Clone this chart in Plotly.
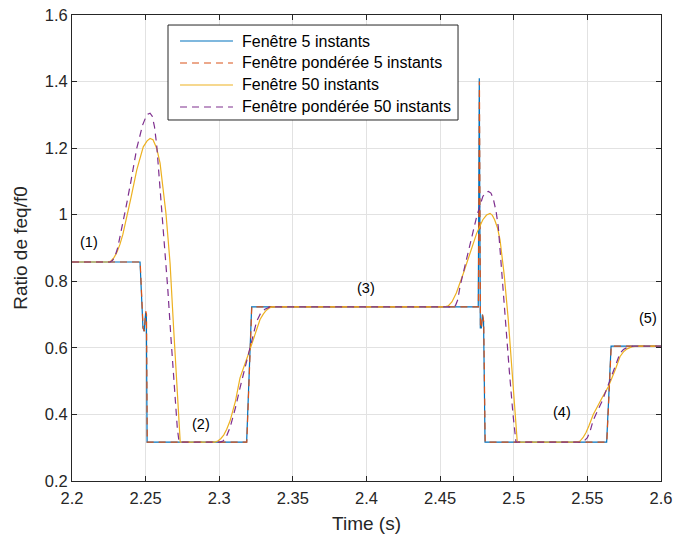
import plotly.graph_objects as go

# ---- data ----
t_w5 = [2.2, 2.2462, 2.2482, 2.2490, 2.2500, 2.2505, 2.2510, 2.3186, 2.3220,
        2.4759, 2.4766, 2.4773, 2.4780, 2.4787, 2.4795, 2.4805, 2.5631, 2.5661, 2.6]
v_w5 = [0.858, 0.858, 0.66, 0.65, 0.705, 0.70, 0.317, 0.317, 0.723,
        0.723, 1.41, 0.66, 0.66, 0.70, 0.68, 0.317, 0.317, 0.605, 0.605]

t_wp5 = [2.2, 2.2463, 2.2483, 2.2491, 2.2501, 2.2506, 2.2511, 2.3187, 2.3221,
         2.4760, 2.4767, 2.4774, 2.4781, 2.4788, 2.4796, 2.4806, 2.5632, 2.5662, 2.6]
v_wp5 = [0.858, 0.858, 0.66, 0.65, 0.71, 0.70, 0.317, 0.317, 0.723,
         0.723, 1.40, 0.66, 0.66, 0.70, 0.68, 0.317, 0.317, 0.605, 0.605]

t_w50 = [2.2, 2.2245, 2.2265, 2.2285, 2.2305, 2.2325, 2.2345, 2.2365, 2.2400, 2.2440,
         2.2484, 2.2510, 2.2530, 2.2550, 2.2575, 2.2598, 2.2618, 2.2638, 2.2652, 2.2666,
         2.2690, 2.2710, 2.2725, 2.2735,
         2.2971, 2.2990, 2.3010, 2.3030, 2.3050, 2.3073, 2.3110, 2.3141, 2.3197, 2.3240,
         2.3277, 2.3300, 2.3320, 2.3340, 2.3360,
         2.4533, 2.4555, 2.4580, 2.4610, 2.4658, 2.4700, 2.4748, 2.4790, 2.4815, 2.4839,
         2.4855, 2.4870, 2.4890, 2.4907, 2.4935, 2.4963, 2.4990, 2.5010, 2.5024,
         2.5428, 2.5450, 2.5470, 2.5490, 2.5510, 2.5540, 2.5600, 2.5643, 2.5690, 2.5722,
         2.5745, 2.5770, 2.5800, 2.5835, 2.6]
v_w50 = [0.858, 0.858, 0.861, 0.871, 0.887, 0.91, 0.94, 0.978, 1.05, 1.135,
         1.204, 1.222, 1.229, 1.225, 1.20, 1.155, 1.08, 1.004, 0.93, 0.854,
         0.66, 0.49, 0.37, 0.317,
         0.317, 0.320, 0.327, 0.338, 0.355, 0.38, 0.44, 0.51, 0.58, 0.64,
         0.685, 0.702, 0.713, 0.720, 0.723,
         0.723, 0.726, 0.738, 0.765, 0.824, 0.88, 0.944, 0.985, 0.999, 1.004,
         0.998, 0.985, 0.96, 0.924, 0.82, 0.684, 0.52, 0.38, 0.317,
         0.317, 0.320, 0.330, 0.345, 0.365, 0.40, 0.45, 0.484, 0.535, 0.574,
         0.588, 0.597, 0.603, 0.605, 0.605]

t_wp50 = [2.2, 2.2258, 2.2275, 2.2292, 2.2310, 2.2340, 2.2370, 2.2400, 2.2440, 2.2480,
          2.2500, 2.2515, 2.2530, 2.2545, 2.2560, 2.2575, 2.2595, 2.2612, 2.2630, 2.2650,
          2.2672, 2.2695, 2.2715, 2.2727,
          2.3005, 2.3025, 2.3045, 2.3073, 2.3110, 2.3141, 2.3197, 2.3254, 2.3280, 2.3310,
          2.3345,
          2.4590, 2.4605, 2.4620, 2.4635, 2.4670, 2.4703, 2.4748, 2.4790, 2.4810, 2.4828,
          2.4845, 2.4860, 2.4880, 2.4895, 2.4920, 2.4940, 2.4970, 2.4995, 2.5015,
          2.5462, 2.5480, 2.5500, 2.5520, 2.5540, 2.5600, 2.5643, 2.5690, 2.5722, 2.5745,
          2.5770, 2.5812, 2.6]
v_wp50 = [0.858, 0.858, 0.862, 0.875, 0.90, 0.96, 1.03, 1.10, 1.20, 1.27,
          1.292, 1.302, 1.305, 1.296, 1.265, 1.21, 1.10, 1.00, 0.90, 0.78,
          0.63, 0.48, 0.36, 0.317,
          0.317, 0.320, 0.330, 0.36, 0.42, 0.48, 0.575, 0.68, 0.703, 0.716,
          0.723,
          0.723, 0.728, 0.745, 0.784, 0.85, 0.904, 0.994, 1.055, 1.067, 1.07,
          1.065, 1.05, 1.01, 0.964, 0.82, 0.684, 0.53, 0.40, 0.317,
          0.317, 0.321, 0.330, 0.352, 0.383, 0.44, 0.49, 0.55, 0.584, 0.595,
          0.601, 0.605, 0.605]

names = ["Fenêtre 5 instants", "Fenêtre pondérée 5 instants",
         "Fenêtre 50 instants", "Fenêtre pondérée 50 instants"]

note_labels = ["(1)", "(2)", "(3)", "(4)", "(5)"]
note_t = [2.2115, 2.2876, 2.3997, 2.5328, 2.5912]
note_v = [0.918, 0.371, 0.78, 0.407, 0.69]

x_ticks = [2.2, 2.25, 2.3, 2.35, 2.4, 2.45, 2.5, 2.55, 2.6]
x_ticktext = ["2.2", "2.25", "2.3", "2.35", "2.4", "2.45", "2.5", "2.55", "2.6"]
y_ticks = [0.2, 0.4, 0.6, 0.8, 1.0, 1.2, 1.4, 1.6]
y_ticktext = ["0.2", "0.4", "0.6", "0.8", "1", "1.2", "1.4", "1.6"]

# ---- styles ----
FONT = "Liberation Sans, Arial, sans-serif"
colors = ["#0072BD", "#D95319", "#EDB120", "#7E2F8E"]
dashes = ["solid", "7px,5px", "solid", "7px,5px"]
series = [(t_w5, v_w5), (t_wp5, v_wp5), (t_w50, v_w50), (t_wp50, v_wp50)]

fig = go.Figure()
for (tx, vy), nm, col, ds in zip(series, names, colors, dashes):
    fig.add_trace(go.Scatter(x=tx, y=vy, mode="lines", name=nm, showlegend=False,
                             line=dict(color=col, width=1.2, dash=ds)))

for lab, tx, vy in zip(note_labels, note_t, note_v):
    fig.add_annotation(x=tx, y=vy, text=lab, showarrow=False,
                       font=dict(family=FONT, size=14.5, color="#000000"))

# ---- legend box (drawn in paper coordinates of the axes) ----
leg_x0, leg_x1, leg_y0, leg_y1 = 0.163, 0.6554, 0.7747, 0.9785
fig.add_shape(type="rect", xref="paper", yref="paper", x0=leg_x0, x1=leg_x1,
              y0=leg_y0, y1=leg_y1, line=dict(color="#262626", width=1),
              fillcolor="white", layer="above")
row_y = [0.9442, 0.8970, 0.8498, 0.8026]
for ry, nm, col, ds in zip(row_y, names, colors, dashes):
    fig.add_shape(type="line", xref="paper", yref="paper", x0=0.1834, x1=0.2733,
                  y0=ry, y1=ry, line=dict(color=col, width=1.2, dash=ds), layer="above")
    fig.add_annotation(xref="paper", yref="paper", x=0.2852, y=ry, text=nm,
                       showarrow=False, xanchor="left", yanchor="middle",
                       font=dict(family=FONT, size=16, color="#000000"))

axis_common = dict(showgrid=True, gridcolor="#e2e2e2", gridwidth=1,
                   showline=True, linecolor="#262626", linewidth=1, mirror="ticks",
                   ticks="inside", ticklen=5, tickcolor="#262626", zeroline=False,
                   ticklabeloverflow="allow",
                   tickfont=dict(family=FONT, size=16.5, color="#262626"))

fig.update_xaxes(range=[2.2, 2.6], tickvals=x_ticks, ticktext=x_ticktext,
                 ticklabelstandoff=2,
                 title=dict(text="Time (s)", font=dict(family=FONT, size=19, color="#262626"),
                            standoff=10),
                 **axis_common)
fig.update_yaxes(range=[0.2, 1.6], tickvals=y_ticks, ticktext=y_ticktext,
                 title=dict(text="Ratio de feq/f0", font=dict(family=FONT, size=19, color="#262626"),
                            standoff=12),
                 **axis_common)

fig.update_layout(
    width=676, height=541,
    margin=dict(l=72, r=15, t=15, b=60, autoexpand=False),
    paper_bgcolor="white", plot_bgcolor="white",
    showlegend=False,
)

fig.write_html(
    "out.html",
    config={"displayModeBar": False},
    post_script="document.body.style.margin='0';document.body.style.overflow='hidden';",
)
